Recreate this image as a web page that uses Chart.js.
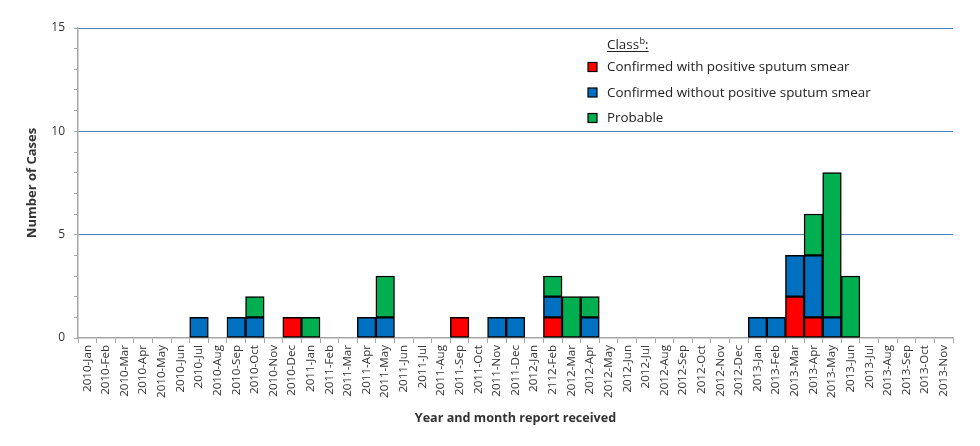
<!DOCTYPE html>
<html>
<head>
<meta charset="utf-8">
<script src="https://cdn.jsdelivr.net/npm/chart.js@4"></script>
<style>
html,body{margin:0;padding:0;background:#fff;}
#wrap{width:980px;height:446px;position:relative;}
</style>
</head>
<body>
<div id="wrap"><canvas id="c"></canvas></div>
<script>
const categories = [
 "2010-Jan","2010-Feb","2010-Mar","2010-Apr","2010-May","2010-Jun","2010-Jul","2010-Aug","2010-Sep","2010-Oct","2010-Nov","2010-Dec",
 "2011-Jan","2011-Feb","2011-Mar","2011-Apr","2011-May","2011-Jun","2011-Jul","2011-Aug","2011-Sep","2011-Oct","2011-Nov","2011-Dec",
 "2012-Jan","2112-Feb","2012-Mar","2012-Apr","2012-May","2012-Jun","2012-Jul","2012-Aug","2012-Sep","2012-Oct","2012-Nov","2012-Dec",
 "2013-Jan","2013-Feb","2013-Mar","2013-Apr","2013-May","2013-Jun","2013-Jul","2013-Aug","2013-Sep","2013-Oct","2013-Nov"
];
const confirmedPositive = [
 0,0,0,0,0,0,0,0,0,0,0,1,
 0,0,0,0,0,0,0,0,1,0,0,0,
 0,1,0,0,0,0,0,0,0,0,0,0,
 0,0,2,1,0,0,0,0,0,0,0
];
const confirmedNegative = [
 0,0,0,0,0,0,1,0,1,1,0,0,
 0,0,0,1,1,0,0,0,0,0,1,1,
 0,1,0,1,0,0,0,0,0,0,0,0,
 1,1,2,3,1,0,0,0,0,0,0
];
const probable = [
 0,0,0,0,0,0,0,0,0,1,0,0,
 1,0,0,0,2,0,0,0,0,0,0,0,
 0,1,2,1,0,0,0,0,0,0,0,0,
 0,0,0,2,7,3,0,0,0,0,0
];
const seriesLabels = ["Confirmed with positive sputum smear","Confirmed without positive sputum smear","Probable"];
const seriesColors = ["#ff0000","#0070c0","#00b050"];
const yTicks = [0,5,10,15];

const FONT = "'Open Sans', 'DejaVu Sans', sans-serif";
const TEXT = "#333333";
const AXIS = "#a6a6a6";
const GRID = "#4f81bd";

const legendPlugin = {
  id: 'boxLegend',
  afterDraw(chart) {
    const ctx = chart.ctx;
    const x0 = 588, xt = 607;
    const fs = "13.4px " + FONT;
    ctx.save();
    ctx.fillStyle = "#222";
    ctx.font = fs;
    ctx.textBaseline = "alphabetic";
    ctx.textAlign = "left";
    const t = "Class";
    ctx.fillText(t, xt, 49);
    const w = ctx.measureText(t).width;
    ctx.font = "9px " + FONT;
    ctx.fillText("b", xt + w + 0.5, 44);
    const wb = ctx.measureText("b").width + 0.5;
    ctx.font = fs;
    ctx.fillText(":", xt + w + wb, 49);
    const wc = ctx.measureText(":").width;
    ctx.strokeStyle = "#222";
    ctx.lineWidth = 1;
    ctx.beginPath();
    ctx.moveTo(xt, 51.5);
    ctx.lineTo(xt + w + wb + wc, 51.5);
    ctx.stroke();
    const ys = [67, 92.5, 118];
    chart.data.datasets.forEach((ds, i) => {
      ctx.fillStyle = ds.backgroundColor;
      ctx.fillRect(x0, ys[i] - 4.5, 9, 9);
      ctx.strokeStyle = "#000";
      ctx.lineWidth = 1.2;
      ctx.strokeRect(x0, ys[i] - 4.5, 9, 9);
      ctx.fillStyle = "#222";
      ctx.font = fs;
      ctx.textBaseline = "middle";
      ctx.fillText(ds.label, xt, ys[i] + 0.5);
    });
    ctx.restore();
  }
};

const datasets = [confirmedPositive, confirmedNegative, probable].map((d, i) => ({
  label: seriesLabels[i],
  data: d,
  backgroundColor: seriesColors[i],
  borderColor: "#000",
  borderWidth: 1.5,
  borderSkipped: false,
  barPercentage: 1,
  categoryPercentage: 1,
  stack: 's'
}));

new Chart(document.getElementById('c'), {
  type: 'bar',
  data: { labels: categories, datasets },
  plugins: [legendPlugin],
  options: {
    responsive: true,
    maintainAspectRatio: false,
    animation: false,
    layout: { padding: { left: 0, right: 27, top: 28, bottom: 6 } },
    plugins: { legend: { display: false }, tooltip: { enabled: false } },
    scales: {
      x: {
        stacked: true,
        grid: { offset: true, drawOnChartArea: false, drawTicks: true, tickLength: 5, tickColor: AXIS, color: AXIS },
        border: { color: AXIS, width: 1.5 },
        ticks: { autoSkip: false, maxRotation: 90, minRotation: 90, color: TEXT, font: { family: FONT, size: 11.6 }, padding: 2 },
        title: { display: true, text: "Year and month report received", color: TEXT, font: { family: FONT, size: 12.6, weight: 'bold' }, padding: { top: 0, bottom: 14 } },
        afterFit(s) { s.height = 102; }
      },
      y: {
        stacked: true,
        min: 0, max: 15,
        afterBuildTicks(s) {
          const t = [];
          for (let v = 0; v <= 15; v++) t.push({ value: v });
          s.ticks = t;
        },
        grid: {
          color: c => (c.tick && c.tick.value % 5 === 0 && c.tick.value !== 0) ? GRID : 'rgba(0,0,0,0)',
          lineWidth: 1,
          drawTicks: true,
          tickLength: 4,
          tickColor: AXIS
        },
        border: { color: AXIS, width: 1.5 },
        ticks: {
          color: TEXT,
          font: { family: FONT, size: 12 },
          padding: 9,
          callback: v => yTicks.includes(v) ? String(v) : ''
        },
        title: { display: true, text: "Number of Cases", color: TEXT, font: { family: FONT, size: 13, weight: 'bold' }, padding: { top: 24, bottom: 0 } },
        afterFit(s) { s.width = 78; }
      }
    }
  }
});
</script>
</body>
</html>
